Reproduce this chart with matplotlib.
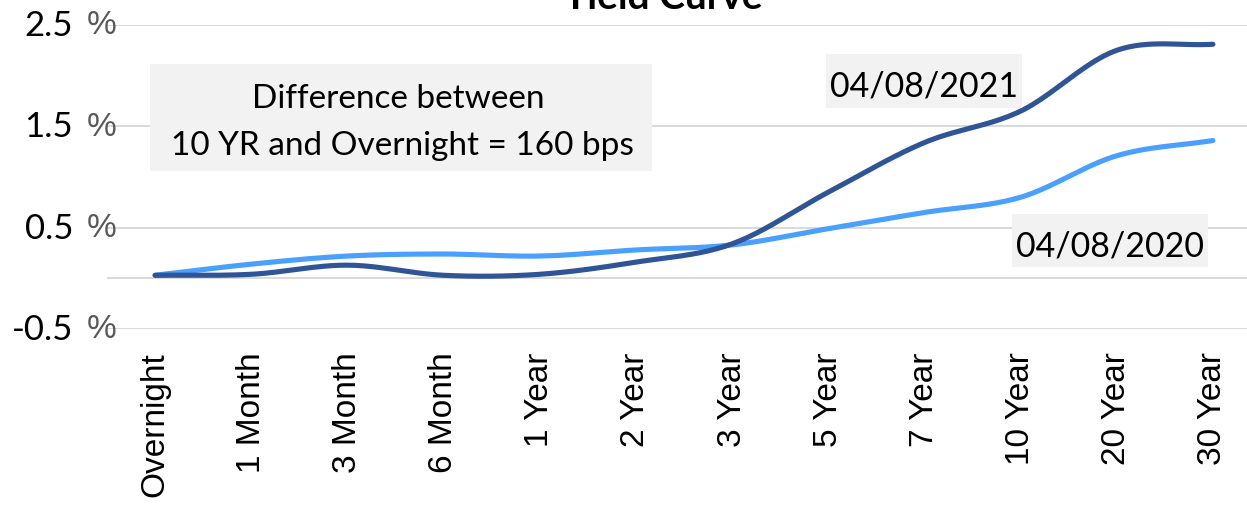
import numpy as np
import matplotlib
matplotlib.use("Agg")
import matplotlib.pyplot as plt
from matplotlib.transforms import blended_transform_factory

# Treasury yield curve, two dates
maturities = ["Overnight", "1 Month", "3 Month", "6 Month", "1 Year", "2 Year",
              "3 Year", "5 Year", "7 Year", "10 Year", "20 Year", "30 Year"]
yields_2021 = [0.03, 0.04, 0.13, 0.03, 0.04, 0.16, 0.34, 0.85, 1.34, 1.65, 2.25, 2.31]
yields_2020 = [0.03, 0.14, 0.22, 0.24, 0.22, 0.28, 0.33, 0.49, 0.65, 0.80, 1.21, 1.36]
ytick_values = [-0.5, 0.5, 1.5, 2.5]
ytick_labels = ["-0.5", "0.5", "1.5", "2.5"]

DARK = "#2f5597"
LIGHT = "#49a0ff"
GRID = "#d9d9d9"
BOX = "#f2f2f2"
SANS = ["Lato", "DejaVu Sans"]
ARIAL = ["Liberation Sans", "DejaVu Sans"]


def smooth(xs, ys, n=24):
    """Catmull-Rom curve through the points (Excel-style smoothed line)."""
    xs = np.asarray(xs, float)
    ys = np.asarray(ys, float)
    px = np.concatenate([[2 * xs[0] - xs[1]], xs, [2 * xs[-1] - xs[-2]]])
    py = np.concatenate([[2 * ys[0] - ys[1]], ys, [2 * ys[-1] - ys[-2]]])
    out_x, out_y = [], []
    t = np.linspace(0, 1, n, endpoint=False)
    for i in range(1, len(px) - 2):
        for p, out in ((px, out_x), (py, out_y)):
            p0, p1, p2, p3 = p[i - 1], p[i], p[i + 1], p[i + 2]
            out.extend(0.5 * ((2 * p1) + (-p0 + p2) * t
                              + (2 * p0 - 5 * p1 + 4 * p2 - p3) * t ** 2
                              + (-p0 + 3 * p1 - 3 * p2 + p3) * t ** 3))
    out_x.append(xs[-1])
    out_y.append(ys[-1])
    return np.array(out_x), np.array(out_y)


W, H = 1247, 506
fig = plt.figure(figsize=(W / 100, H / 100), dpi=100)
left, right = 107 / W, 1261 / W
bottom, top = (H - 330) / H, (H - 26) / H
ax = fig.add_axes([left, bottom, right - left, top - bottom])

x = np.arange(len(maturities))
ax.set_xlim(-0.5, len(maturities) - 0.5)
ax.set_ylim(-0.5, 2.5)

for yv in ytick_values:
    ax.axhline(yv, color=GRID, lw=1.4, zorder=0)
ax.axhline(0, color=GRID, lw=1.4, zorder=0)

for ys, col in ((yields_2020, LIGHT), (yields_2021, DARK)):
    sx, sy = smooth(x, ys)
    ax.plot(sx, sy, color=col, lw=3.7, solid_capstyle="round", zorder=3)

for s in ax.spines.values():
    s.set_visible(False)

ax.set_yticks([])
ax.set_xticks(x)
ax.set_xticklabels(maturities, rotation=90, fontsize=24, family=ARIAL, va="top")
ax.tick_params(axis="x", length=0, pad=16)

# y tick labels: value in black, percent sign in grey
trans = blended_transform_factory(fig.transFigure, ax.transData)
for yv, lab in zip(ytick_values, ytick_labels):
    ax.text(73 / W, yv, lab, transform=trans, ha="right", va="center",
            fontsize=25, family=SANS, color="black", clip_on=False)
    ax.text(87 / W, yv, "%", transform=trans, ha="left", va="center",
            fontsize=24, family=ARIAL, color="#595959", clip_on=False)

fig.text(663 / W, 1 - 9 / H, "Yield Curve", ha="center", va="baseline",
         fontsize=28, fontweight="bold", family=SANS)


# Annotation boxes drawn in figure pixel space
def box(x0, y0, x1, y1):
    fig.patches.append(plt.Rectangle((x0 / W, 1 - y1 / H), (x1 - x0) / W,
                                     (y1 - y0) / H, transform=fig.transFigure,
                                     facecolor=BOX, edgecolor="none", zorder=1))


def label(xc, baseline, s, size):
    fig.text(xc / W, 1 - baseline / H, s, ha="center", va="baseline",
             fontsize=size, family=SANS, zorder=2)


box(150, 65, 652, 172)
label(398, 108, "Difference between", 24)
label(402, 155, "10 YR and Overnight = 160 bps", 24)

box(826, 55, 1022, 109)
label(924, 97, "04/08/2021", 24.5)

box(1012, 215, 1208, 268)
label(1110, 257, "04/08/2020", 24.5)

fig.savefig("out.png", dpi=100)
